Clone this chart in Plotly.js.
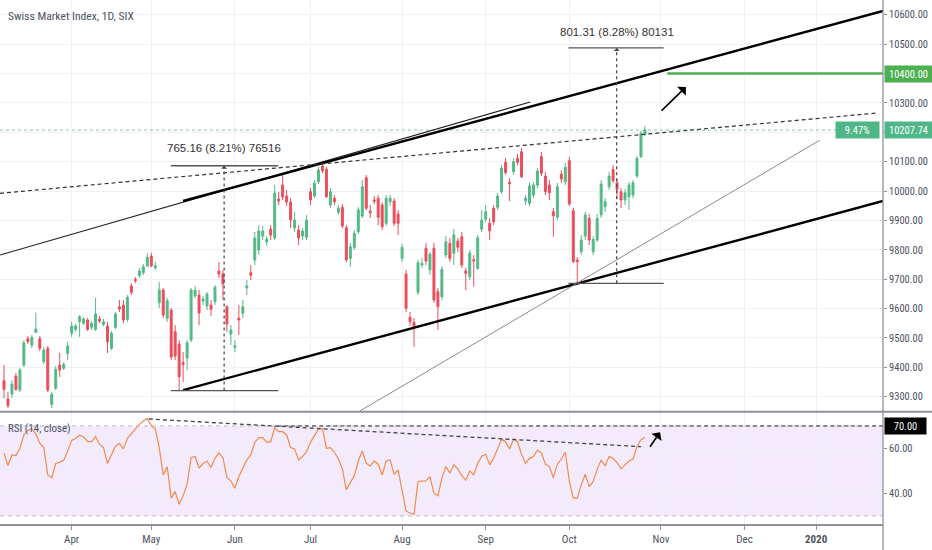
<!DOCTYPE html>
<html>
<head>
<meta charset="utf-8">
<script src="https://cdn.plot.ly/plotly-3.0.1.min.js"></script>
<style>html,body{margin:0;padding:0;background:#fff}#chart{width:932px;height:550px}</style>
</head>
<body>
<div id="chart"></div>
<script>
// ---- Data (SMI daily, trading-day index; 0 = 1 Apr 2019) ----
const firstIndex = -17;
const open = [9354.5,9292.2,9309.2,9370.5,9322.8,9408.0,9497.5,9476.0,9519.3,9497.5,9419.2,9464.8,9274.2,9328.6,9408.0,9396.7,9447.8,
9515.9,9529.4,9555.3,9549.9,9561.1,9536.3,9529.4,9564.5,9546.5,9540.7,9464.8,9536.3,9606.4,9612.2,9563.5,9676.9,9699.7,9712.0,9722.1,9745.0,
9779.0,9739.1,9620.0,9663.2,9566.9,9595.2,9521.3,9479.4,9416.5,9431.8,9493.0,9642.8,9646.2,9625.8,9608.8,9612.2,9623.4,9728.0,9717.7,9606.4,
9513.5,9468.2,9567.9,9584.0,9671.0,9722.1,9765.4,9799.4,9847.0,9826.6,9870.9,9840.2,9973.0,10020.7,9983.2,9962.8,9874.3,9867.5,9847.0,9842.6,
9997.9,9983.2,10031.9,10085.3,10074.1,9952.6,9975.4,9927.7,9944.8,9875.3,9771.1,9808.6,9861.7,9915.1,10045.5,9932.2,9969.6,9975.4,9952.6,9890.3,
9963.8,9966.2,9921.9,9771.1,9717.7,9570.3,9553.3,9655.4,9748.4,9805.2,9731.3,9805.2,9657.5,9640.4,9782.4,9822.2,9788.2,9830.0,9844.7,9728.0,
9708.5,9766.4,9737.1,9869.9,9903.9,9890.3,9941.3,9944.8,9997.9,10097.9,10029.8,10065.9,10111.6,10134.0,9967.2,9958.4,9986.6,10020.7,10117.0,10051.3,
10020.7,9929.8,9910.7,10058.1,10031.9,10103.4,9933.2,9765.4,9793.6,9847.0,9907.3,9793.6,9833.4,9918.5,9946.8,10014.9,10074.1,10028.5,9997.9,
9969.6,9980.8,9986.6,10051.3,10117.0,10194.3];
const high = [9408.0,9317.0,9356.9,9380.7,9397.7,9493.0,9506.7,9510.1,9586.0,9506.7,9469.2,9472.6,9317.0,9404.5,9448.8,9418.2,9487.3,
9555.3,9547.5,9578.1,9571.3,9567.9,9557.7,9636.0,9574.7,9564.5,9555.3,9523.7,9588.4,9629.2,9629.2,9646.2,9686.1,9707.5,9738.1,9751.7,9788.2,
9790.2,9758.6,9690.5,9670.0,9636.0,9602.0,9544.1,9493.0,9452.2,9493.0,9670.0,9676.9,9663.2,9642.8,9656.4,9629.2,9680.3,9758.6,9731.3,9612.2,
9544.1,9493.0,9612.2,9629.2,9697.3,9748.4,9860.7,9884.5,9881.1,9847.0,9884.5,10020.7,9996.8,10054.7,10003.6,9976.4,9928.8,9884.5,9874.3,9918.5,
10010.4,10037.7,10081.9,10095.5,10081.9,10010.4,9986.6,9952.6,9956.0,9884.5,9823.2,9867.5,9945.8,10037.7,10054.7,9952.6,9983.2,9986.6,9962.8,9986.6,
9986.6,9976.4,9935.6,9819.8,9731.3,9588.4,9567.9,9765.4,9772.2,9823.2,9792.6,9823.2,9670.0,9744.9,9847.0,9840.2,9870.9,9840.2,9860.7,9738.1,
9799.4,9782.4,9850.5,9935.6,9952.6,9908.3,9952.6,9993.4,10088.7,10112.6,10044.5,10112.6,10126.2,10146.6,9986.6,10027.5,10030.9,10078.5,10133.0,10064.9,
10037.7,9942.4,10027.5,10071.7,10095.5,10116.0,9942.4,9775.6,9850.5,9928.8,9922.0,9847.0,9922.0,10037.7,9976.4,10064.9,10088.7,10041.1,10010.4,
10007.0,10030.9,10037.7,10119.4,10204.5,10221.5];
const low = [9294.6,9261.6,9295.6,9319.4,9316.0,9401.1,9479.4,9465.8,9516.9,9455.6,9411.4,9316.0,9261.6,9322.8,9367.1,9390.9,9425.0,
9504.3,9520.3,9504.3,9544.1,9523.7,9527.1,9523.7,9550.9,9540.7,9448.8,9459.0,9530.5,9588.4,9549.9,9554.3,9646.2,9687.1,9704.1,9714.3,9742.6,
9740.5,9731.3,9602.0,9567.9,9554.3,9425.0,9425.0,9322.8,9350.1,9390.9,9486.2,9636.0,9544.1,9612.2,9595.2,9574.7,9612.2,9704.1,9629.2,9520.3,
9476.0,9452.2,9510.1,9567.9,9646.2,9697.3,9748.4,9782.4,9833.4,9813.0,9833.4,9833.4,9952.6,9969.6,9949.2,9874.3,9860.7,9816.4,9833.4,9833.4,
9952.6,9976.4,10024.1,10061.5,9976.4,9942.4,9952.6,9918.5,9874.3,9758.6,9742.6,9799.4,9853.9,9908.3,9935.6,9908.3,9956.0,9884.5,9867.5,9881.1,
9949.2,9881.1,9850.5,9758.6,9588.4,9540.7,9470.2,9646.2,9738.1,9748.4,9714.3,9619.0,9527.1,9629.2,9772.2,9758.6,9748.4,9792.6,9738.1,9663.2,
9697.3,9674.5,9731.3,9860.7,9894.7,9833.4,9884.5,9935.6,9990.0,10054.7,9966.2,10054.7,10088.7,10044.5,9952.6,9949.2,9976.4,10010.4,10051.3,9986.6,
9969.6,9844.7,9901.5,10027.5,10020.7,9949.2,9755.2,9686.0,9782.4,9833.4,9816.4,9782.4,9826.6,9908.3,9928.8,10003.6,10027.5,9976.4,9942.4,
9952.6,9935.6,9976.4,10044.5,10112.6,10187.5];
const close = [9325.2,9269.4,9343.3,9325.2,9390.9,9483.8,9487.3,9500.9,9530.5,9464.8,9459.0,9322.8,9308.2,9393.3,9390.9,9410.3,9472.6,
9540.7,9540.7,9572.4,9564.5,9529.4,9549.9,9581.5,9557.7,9555.3,9487.3,9515.9,9581.5,9598.6,9561.1,9638.4,9655.4,9694.9,9728.0,9742.6,9774.6,
9745.0,9746.0,9663.2,9578.1,9626.8,9435.2,9438.6,9368.1,9409.7,9483.8,9663.2,9663.2,9585.0,9632.6,9649.6,9597.6,9672.4,9717.7,9683.7,9547.5,
9527.1,9473.6,9561.1,9606.4,9676.9,9713.3,9840.2,9864.1,9864.1,9836.8,9850.5,9993.4,9966.2,9979.8,9962.8,9901.5,9901.5,9840.2,9864.1,9901.5,
9969.6,10026.4,10071.7,10069.3,9980.8,9997.9,9963.8,9941.3,9881.1,9765.4,9810.6,9856.2,9935.6,10014.9,9941.3,9926.4,9965.2,9910.7,9878.7,9975.4,
9975.4,9890.3,9890.3,9808.6,9600.9,9555.3,9536.3,9756.2,9754.1,9762.0,9785.8,9629.2,9606.4,9733.7,9827.7,9771.1,9850.5,9808.6,9748.4,9720.1,
9788.2,9762.0,9841.3,9901.5,9929.8,9865.1,9895.7,9983.2,10077.5,10062.5,10025.1,10100.0,10097.9,10048.9,9975.4,10017.3,10020.7,10068.3,10060.5,9997.9,
9994.4,9916.2,10014.9,10041.1,10080.9,9956.0,9759.6,9759.6,9833.4,9918.5,9833.4,9835.8,9907.3,10024.1,9963.8,10051.3,10035.3,10006.0,9969.6,
9994.4,10020.7,10028.5,10111.6,10196.6,10207.74];
const rsi = [57.9,52.4,57.1,56.8,60.1,66.0,68.1,68.7,66.5,62.3,60.4,48.2,47.0,53.3,53.9,54.7,58.9,
63.6,64.4,65.9,65.1,63.0,63.0,65.3,61.9,60.4,53.3,56.8,61.0,62.3,59.8,64.5,66.6,69.0,70.7,72.2,73.4,
70.1,68.7,60.4,48.2,51.9,37.9,40.8,35.2,39.0,44.1,55.9,56.4,51.2,53.3,54.4,51.5,55.6,58.1,55.9,47.0,
45.6,42.3,47.5,51.5,54.9,57.1,62.7,64.8,64.8,62.7,63.0,69.3,67.5,67.5,66.0,60.4,59.8,54.9,56.4,58.6,
62.7,65.7,68.7,68.7,60.1,60.4,58.3,55.3,50.9,41.6,44.5,47.9,54.4,58.9,53.4,52.2,54.4,53.0,48.2,54.4,
54.9,48.5,50.4,41.1,32.2,31.2,30.7,45.3,45.3,45.6,47.5,40.1,39.0,46.7,51.9,49.0,52.7,50.9,47.9,45.9,
50.0,48.2,53.4,56.5,57.4,52.7,55.6,60.1,64.1,63.0,59.8,64.1,63.0,57.4,53.4,55.6,56.4,59.3,57.9,53.0,
51.9,47.0,53.0,55.3,58.3,45.6,37.9,37.9,43.8,48.5,43.0,45.3,50.7,54.9,52.2,56.4,55.6,53.7,50.9,
52.7,54.4,55.3,60.8,63.9,65.0];
const monthTickIndex = [0, 20, 41, 60, 83, 104, 125, 148, 169, 187];
const monthTickLabels = ['Apr', 'May', 'Jun', 'Jul', 'Aug', 'Sep', 'Oct', 'Nov', 'Dec', '<b>2020</b>'];
const priceTicks = [9300, 9400, 9500, 9600, 9700, 9800, 9900, 10000, 10100, 10200, 10300, 10400, 10500, 10600];
const rsiTicks = [40, 60];
const measure1 = {from: 9321.0, change: 765.16, pct: '8.21%', ticks: '76516'};
const measure2 = {from: 9686.0, change: 801.31, pct: '8.28%', ticks: '80131'};
const targetLevel = 10400;
const changePct = '9.47%';
const titleText = 'Swiss Market Index, 1D, SIX';
const rsiTitle = 'RSI (14, close)';

// ---- Font selection (pick a narrow face if one exists, size to the reference text widths) ----
const ctx = document.createElement('canvas').getContext('2d');
function tw(txt, font) { ctx.font = font; return ctx.measureText(txt).width; }
function hasFont(name) {
  const s = 'abcdefghijklmnopqrstuvwxyzABCDEFGHIJ0123456789';
  return ['monospace', 'serif'].some(fb => Math.abs(tw(s, "20px '" + name + "', " + fb) - tw(s, '20px ' + fb)) > 0.5);
}
const candidates = ['Liberation Sans Narrow', 'Arial Narrow', 'Roboto Condensed', 'Noto Sans Condensed',
  'Open Sans Condensed', 'DejaVu Sans Condensed', 'Roboto', 'Liberation Sans'];
const FAM = candidates.find(hasFont) || 'sans-serif';
const NARROW = "'" + FAM + "', sans-serif";
function fitSize(txt, target, lo, hi) {
  const s = target / tw(txt, "10px '" + FAM + "', sans-serif") * 10;
  return Math.max(lo, Math.min(hi, s));
}
const axisSize = fitSize('10600.00', 39, 10, 12);
const titleSize = fitSize(titleText, 126, 11, 13);
const rsiTitleSize = fitSize(rsiTitle, 60, 11, 13);
const monthSize = Math.max(axisSize, 11);

// ---- Drawing ----
const barX = open.map((_, i) => i + firstIndex);
const lastClose = close[close.length - 1];
const TXT = '#4c525e';
const GRID = '#eff1f6';
// tick labels hidden behind the last-price label (as in the reference)
const priceTickText = priceTicks.map(v => Math.abs(v - lastClose) < 30 ? '' : v.toFixed(2));

const candles = {
  type: 'candlestick', x: barX, open: open, high: high, low: low, close: close,
  xaxis: 'x', yaxis: 'y', whiskerwidth: 0, hoverinfo: 'skip',
  increasing: {line: {color: '#53b987', width: 1}, fillcolor: '#53b987'},
  decreasing: {line: {color: '#eb4d5c', width: 1}, fillcolor: '#eb4d5c'}
};
const rsiLine = {
  type: 'scatter', mode: 'lines', x: barX, y: rsi, xaxis: 'x', yaxis: 'y2',
  line: {color: '#f28a4e', width: 1.2}, hoverinfo: 'skip'
};

const XL = -18.0, XR = 203.8;
const m1Top = measure1.from + measure1.change, m2Top = measure2.from + measure2.change;

const shapes = [
  {type: 'rect', xref: 'paper', x0: 0, x1: 1, yref: 'y2', y0: 30, y1: 70, fillcolor: '#f3ebfc', line: {width: 0}, layer: 'below'},
  {type: 'line', xref: 'paper', x0: 0, x1: 1, yref: 'y2', y0: 70, y1: 70, line: {color: '#b8b8c4', width: 1, dash: '4px,4px'}},
  {type: 'line', xref: 'paper', x0: 0, x1: 1, yref: 'y2', y0: 30, y1: 30, line: {color: '#b8b8c4', width: 1, dash: '4px,4px'}},
  {type: 'line', xref: 'x', x0: 51.6, x1: XR, yref: 'y2', y0: 70, y1: 70, line: {color: '#333', width: 1, dash: '4px,3px'}},
  {type: 'line', xref: 'x', x0: 19.4, x1: 143, yref: 'y2', y0: 73.1, y1: 60.8, line: {color: '#444', width: 1.3, dash: '4px,3px'}},
  {type: 'line', xref: 'paper', x0: 0, x1: 1, yref: 'y', y0: lastClose, y1: lastClose, line: {color: 'rgba(83,185,135,0.75)', width: 1, dash: 'dot'}},
  {type: 'line', xref: 'x', yref: 'y', x0: -18.0, y0: 9782.4, x1: 115.2, y1: 10303.2, line: {color: '#222', width: 1.2}},
  {type: 'line', xref: 'x', yref: 'y', x0: 28.0, y0: 9966.2, x1: XR, y1: 10613, line: {color: '#000', width: 2.4}},
  {type: 'line', xref: 'x', yref: 'y', x0: 28.0, y0: 9322.8, x1: XR, y1: 9966.2, line: {color: '#000', width: 2.4}},
  {type: 'line', xref: 'x', yref: 'y', x0: -18.0, y0: 9992.4, x1: 202.3, y1: 10265.7, line: {color: '#333', width: 1.2, dash: '4px,3px'}},
  {type: 'line', xref: 'x', yref: 'y', x0: 72.4, y0: 9251.4, x1: 188, y1: 10173.8, line: {color: '#8a8a8a', width: 1}},
  {type: 'line', xref: 'x', yref: 'y', x0: 149.6, x1: XR, y0: targetLevel, y1: targetLevel, line: {color: '#4caf50', width: 2.4}},
  {type: 'line', xref: 'x', yref: 'y', x0: 24.9, x1: 51.9, y0: m1Top, y1: m1Top, line: {color: '#555', width: 1.3}},
  {type: 'line', xref: 'x', yref: 'y', x0: 24.9, x1: 51.9, y0: measure1.from, y1: measure1.from, line: {color: '#555', width: 1.3}},
  {type: 'line', xref: 'x', yref: 'y', x0: 38.3, x1: 38.3, y0: measure1.from, y1: m1Top - 4, line: {color: '#444', width: 1.2, dash: '3px,3px'}},
  {type: 'line', xref: 'x', yref: 'y', x0: 124.8, x1: 148.7, y0: m2Top, y1: m2Top, line: {color: '#555', width: 1.3}},
  {type: 'line', xref: 'x', yref: 'y', x0: 124.8, x1: 148.7, y0: measure2.from, y1: measure2.from, line: {color: '#555', width: 1.3}},
  {type: 'line', xref: 'x', yref: 'y', x0: 136.9, x1: 136.9, y0: measure2.from, y1: m2Top - 4, line: {color: '#444', width: 1.2, dash: '3px,3px'}},
  {type: 'line', xref: 'paper', yref: 'paper', x0: 0, x1: 1.056, y0: 0.2143, y1: 0.2143, line: {color: '#8f929b', width: 2}},
  {type: 'line', xref: 'paper', yref: 'paper', x0: 1, x1: 1, y0: -0.05, y1: 1, line: {color: '#8f929b', width: 1.3}}
];

const boxFont = {family: NARROW, size: axisSize, color: '#fff'};
const annotations = [
  {xref: 'paper', yref: 'paper', x: 0, y: 0.9695, xshift: 6, xanchor: 'left', yanchor: 'middle', showarrow: false,
   text: titleText, font: {family: NARROW, size: titleSize, color: TXT}},
  {xref: 'paper', yref: 'paper', x: 0, y: 0.1813, xshift: 6, xanchor: 'left', yanchor: 'middle', showarrow: false,
   text: rsiTitle, font: {family: NARROW, size: rsiTitleSize, color: TXT}},
  {xref: 'x', yref: 'y', x: 38.3, y: 10145.6, showarrow: false, yanchor: 'middle',
   text: measure1.change.toFixed(2) + ' (' + measure1.pct + ') ' + measure1.ticks, font: {family: "'Liberation Sans', Arial, sans-serif", size: 11.5, color: '#333'}},
  {xref: 'x', yref: 'y', x: 136.9, y: 10540.4, showarrow: false, yanchor: 'middle',
   text: measure2.change.toFixed(2) + ' (' + measure2.pct + ') ' + measure2.ticks, font: {family: "'Liberation Sans', Arial, sans-serif", size: 11.5, color: '#333'}},
  {xref: 'x', yref: 'y', axref: 'x', ayref: 'y', x: 38.3, y: m1Top, ax: 38.3, ay: m1Top - 10, text: '', showarrow: true, arrowhead: 1, arrowsize: 1, arrowwidth: 1, arrowcolor: '#444', standoff: 0},
  {xref: 'x', yref: 'y', axref: 'x', ayref: 'y', x: 136.9, y: m2Top, ax: 136.9, ay: m2Top - 10, text: '', showarrow: true, arrowhead: 1, arrowsize: 1, arrowwidth: 1, arrowcolor: '#444', standoff: 0},
  {xref: 'x', yref: 'y', axref: 'x', ayref: 'y', x: 154.3, y: 10354.3, ax: 147.8, ay: 10269.2, text: '', showarrow: true, arrowhead: 1, arrowsize: 1.3, arrowwidth: 1.6, arrowcolor: '#000', standoff: 0},
  {xref: 'x', yref: 'y2', axref: 'x', ayref: 'y2', x: 147.8, y: 67.2, ax: 145.0, ay: 60.1, text: '', showarrow: true, arrowhead: 1, arrowsize: 1.3, arrowwidth: 1.6, arrowcolor: '#000', standoff: 0},
  {xref: 'paper', yref: 'y', x: 1, y: targetLevel, xanchor: 'left', yanchor: 'middle', xshift: 1, showarrow: false,
   text: targetLevel.toFixed(2), bgcolor: '#4caf50', borderpad: 0, width: 47, height: 16, font: boxFont},
  {xref: 'paper', yref: 'y', x: 1, y: lastClose, xanchor: 'left', yanchor: 'middle', xshift: 1, showarrow: false,
   text: lastClose.toFixed(2), bgcolor: '#4fb687', borderpad: 0, width: 47, height: 16, font: boxFont},
  {xref: 'paper', yref: 'y', x: 1, y: lastClose, xanchor: 'right', yanchor: 'middle', xshift: -3, showarrow: false,
   text: changePct, bgcolor: '#4fb687', borderpad: 0, width: 43, height: 16, font: boxFont},
  {xref: 'paper', yref: 'y2', x: 1, y: 70, xanchor: 'left', yanchor: 'middle', xshift: 1, showarrow: false,
   text: (70).toFixed(2), bgcolor: '#000', borderpad: 0, width: 41, height: 16, font: boxFont}
];

const layout = {
  width: 932, height: 550,
  margin: {l: 0, r: 49, t: 0, b: 26, pad: 0},
  paper_bgcolor: '#fff', plot_bgcolor: '#fff',
  showlegend: false, dragmode: false,
  font: {family: NARROW, size: axisSize, color: TXT},
  xaxis: {
    range: [XL, XR], anchor: 'y2', tickvals: monthTickIndex, ticktext: monthTickLabels,
    showgrid: true, gridcolor: GRID, zeroline: false, showline: true, linecolor: '#8f929b', linewidth: 1.5,
    ticks: 'outside', ticklen: 4, tickcolor: '#8f929b', tickfont: {family: NARROW, size: monthSize, color: TXT},
    rangeslider: {visible: false}, fixedrange: true
  },
  yaxis: {
    domain: [0.2156, 1], range: [9251.4, 10650.4], side: 'right', tickvals: priceTicks, ticktext: priceTickText,
    showgrid: true, gridcolor: GRID, zeroline: false, showline: false,
    ticks: 'outside', ticklen: 3, tickcolor: '#8f929b', tickfont: {family: NARROW, size: axisSize, color: TXT}, fixedrange: true
  },
  yaxis2: {
    domain: [0, 0.2137], range: [26.4, 76.2], side: 'right', tickvals: rsiTicks, tickformat: '.2f',
    showgrid: true, gridcolor: GRID, zeroline: false, showline: false,
    ticks: 'outside', ticklen: 3, tickcolor: '#8f929b', tickfont: {family: NARROW, size: axisSize, color: TXT}, fixedrange: true
  },
  shapes: shapes,
  annotations: annotations
};

Plotly.newPlot('chart', [candles, rsiLine], layout, {staticPlot: true, displayModeBar: false});
</script>
</body>
</html>
